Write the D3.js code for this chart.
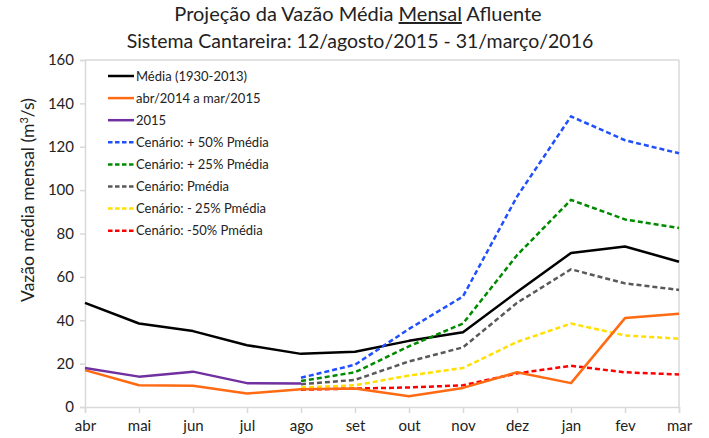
<!DOCTYPE html>
<html><head><meta charset="utf-8">
<script src="https://cdn.jsdelivr.net/npm/d3@7"></script>
<style>body{margin:0;background:#fff}svg{display:block}text{font-family:Lato,"Open Sans",sans-serif}</style>
</head><body><svg id="c" width="709" height="438"></svg>
<script>
const months = ["abr","mai","jun","jul","ago","set","out","nov","dez","jan","fev","mar"];
const yTicks = [0,20,40,60,80,100,120,140,160];
const media = [48,38.5,35,28.5,24.5,25.5,30.5,34.5,53,71,74,67];
const abr2014 = [17,10,9.8,6.2,8.2,8.5,5,8.8,16,11,41,43];
const y2015 = [18,14,16.3,11,10.8,null,null,null,null,null,null,null];
const cen50p = [null,null,null,null,13.5,19.5,36,51,97,134,123,117];
const cen25p = [null,null,null,null,12,16,28,38.5,70,95.5,86.5,82.5];
const cenMed = [null,null,null,null,10.5,12.5,21,27.5,48,63.5,57,54];
const cen25m = [null,null,null,null,9,10,14.5,18,30,38.5,33,31.5];
const cen50m = [null,null,null,null,8,8.5,9,10,15.5,19,16,15];

const series = [
  {name:"Média (1930-2013)", v:media, color:"#000000", dash:null},
  {name:"abr/2014 a mar/2015", v:abr2014, color:"#FF6A13", dash:null},
  {name:"2015", v:y2015, color:"#7030A0", dash:null},
  {name:"Cenário: + 50% Pmédia", v:cen50p, color:"#1F4FFF", dash:"5,3"},
  {name:"Cenário: + 25% Pmédia", v:cen25p, color:"#008A00", dash:"5,3"},
  {name:"Cenário: Pmédia", v:cenMed, color:"#595959", dash:"5,3"},
  {name:"Cenário: - 25% Pmédia", v:cen25m, color:"#FFE000", dash:"5,3"},
  {name:"Cenário: -50% Pmédia", v:cen50m, color:"#FF0000", dash:"5,3"}
];
const drawOrder = [0,3,4,5,6,7,1,2];

const svg = d3.select("#c");
const L=85, R=679, T=60, B=407;
const x = d3.scalePoint().domain(months).range([L,R]).padding(0);
const y = d3.scaleLinear().domain([0,160]).range([B,T]);

// plot border (top/right)
svg.append("line").attr("x1",L).attr("x2",R).attr("y1",T).attr("y2",T).attr("stroke","#d9d9d9").attr("stroke-width",1.5);
svg.append("line").attr("x1",R).attr("x2",R).attr("y1",T).attr("y2",B).attr("stroke","#d9d9d9").attr("stroke-width",1.5);

const ya = svg.append("g").attr("transform",`translate(${L},0)`).call(d3.axisLeft(y).tickValues(yTicks).tickSize(5).tickPadding(6));
const xa = svg.append("g").attr("transform",`translate(0,${B})`).call(d3.axisBottom(x).tickSize(6).tickPadding(7));
[ya,xa].forEach(a=>{a.selectAll("path,line").attr("stroke","#d9d9d9").attr("stroke-width",1.5);
  a.selectAll("text").attr("fill","#222").style("font-size","15px").style("font-family","Lato,'Open Sans',sans-serif");});

const line = d3.line().defined(d=>d!=null).x((d,i)=>x(months[i])).y(d=>y(d));
drawOrder.forEach(k=>{
  const s=series[k];
  svg.append("path").datum(s.v).attr("d",line).attr("fill","none")
    .attr("stroke",s.color).attr("stroke-width",2.5)
    .attr("stroke-dasharray",s.dash).attr("stroke-linejoin","round");
});

// legend
const lg = svg.append("g");
series.forEach((s,i)=>{
  const yy = 76 + i*22.1;
  lg.append("line").attr("x1",108).attr("x2",134).attr("y1",yy).attr("y2",yy)
    .attr("stroke",s.color).attr("stroke-width",2.5).attr("stroke-dasharray",s.dash?"4.5,2.5":null);
  lg.append("text").attr("x",136).attr("y",yy+4.5).style("font-size","13px").attr("fill","#222").text(s.name);
});

// title
const t1 = svg.append("text").attr("x",358).attr("y",21).attr("text-anchor","middle").style("font-size","20px").attr("fill","#222");
t1.append("tspan").text("Projeção da Vazão Média ");
t1.append("tspan").attr("text-decoration","underline").style("text-decoration","underline").text("Mensal");
t1.append("tspan").text(" Afluente");
svg.append("text").attr("x",360).attr("y",48).attr("text-anchor","middle").style("font-size","19.5px").attr("fill","#222")
  .text("Sistema Cantareira: 12/agosto/2015 - 31/março/2016");

// y label
const yl = svg.append("text").attr("transform","translate(34,200) rotate(-90)").attr("text-anchor","middle").style("font-size","17.5px").attr("fill","#222");
yl.append("tspan").text("Vazão média mensal (m");
yl.append("tspan").attr("baseline-shift","super").style("font-size","11px").text("3");
yl.append("tspan").text("/s)");
</script></body></html>
